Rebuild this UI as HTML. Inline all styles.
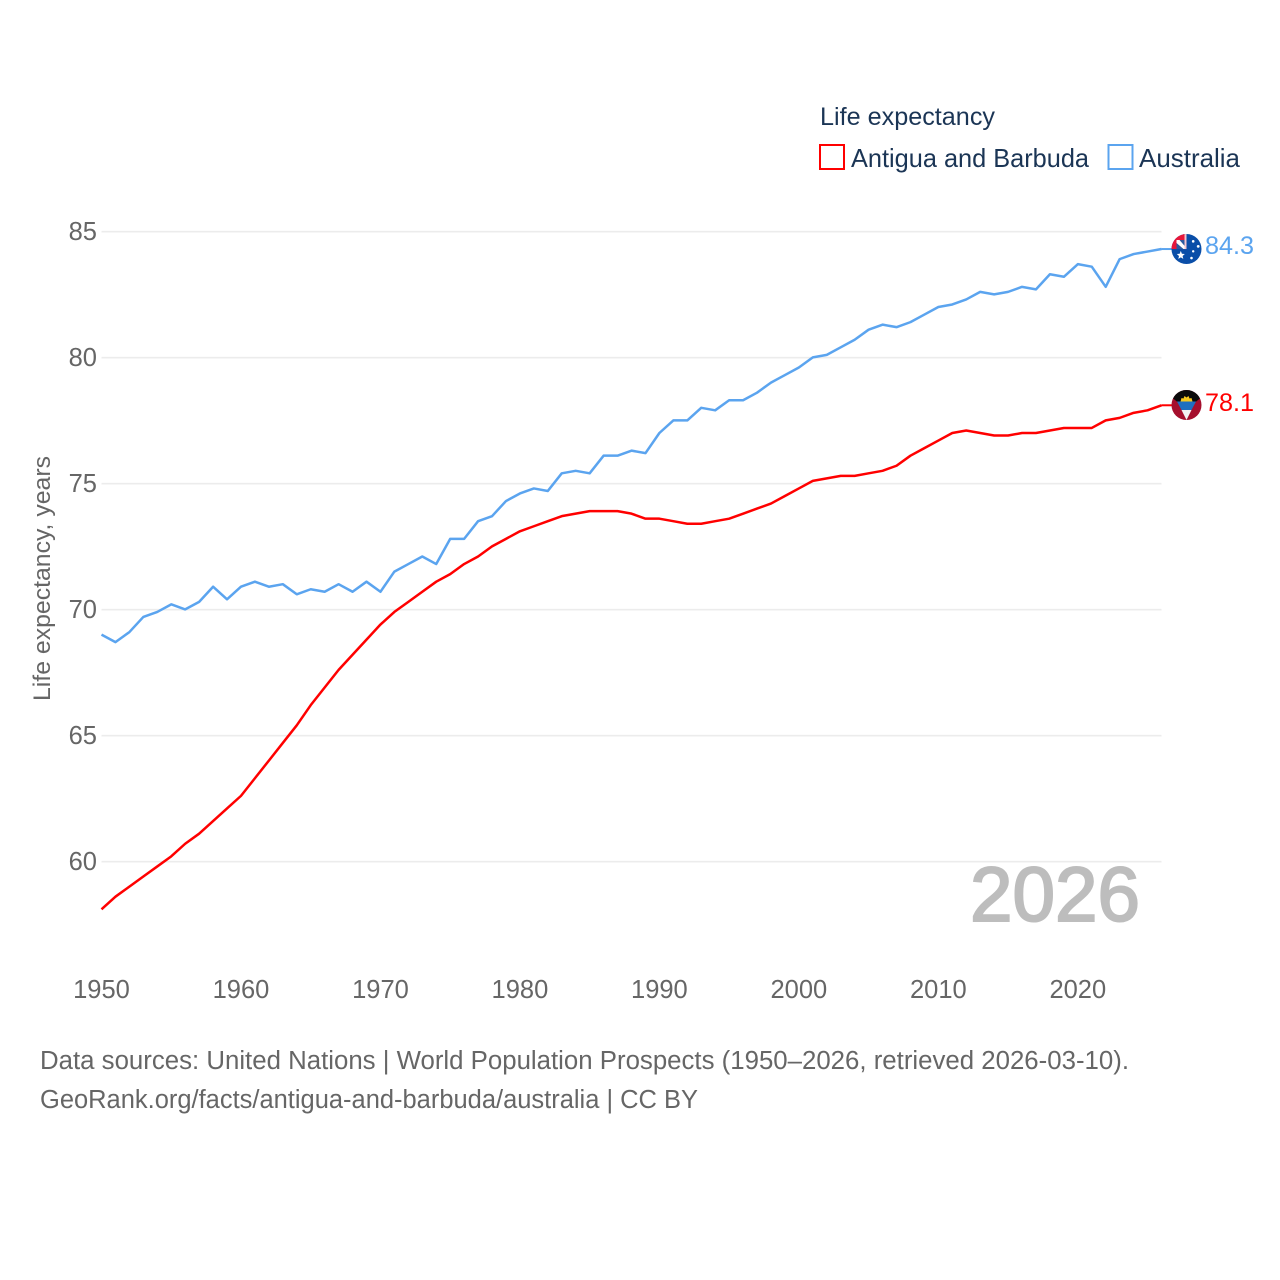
<!DOCTYPE html>
<html lang="en">
<head>
<meta charset="utf-8">
<title>Life expectancy: Antigua and Barbuda and Australia</title>
<style>
html,body{margin:0;padding:0;background:#fff;width:1280px;height:1280px;overflow:hidden}
svg{display:block}
text{font-family:"Liberation Sans",sans-serif}
</style>
</head>
<body>
<svg id="chart" xmlns="http://www.w3.org/2000/svg" width="1280" height="1280" viewBox="0 0 1280 1280">
  <defs>
    <clipPath id="flag-clip"><circle cx="0" cy="0" r="15"></circle></clipPath>
  </defs>
  <rect x="0" y="0" width="1280" height="1280" fill="#ffffff"></rect>
  <g id="grid"></g>
  <g id="y-ticks"></g>
  <g id="x-ticks"></g>

  <text transform="translate(50,701) rotate(-90)" font-size="24.500" fill="#666666" textLength="245" lengthAdjust="spacingAndGlyphs">Life expectancy, years</text>

  <text x="970" y="921" font-size="77" font-weight="400" fill="#bdbdbd" stroke="#bdbdbd" stroke-width="2" textLength="170" lengthAdjust="spacingAndGlyphs">2026</text>

  <g id="series"></g>

  <g>
    <text x="820" y="125" font-size="25" fill="#1b3555" textLength="175" lengthAdjust="spacingAndGlyphs">Life expectancy</text>
    <rect x="820" y="145" width="24" height="24" fill="#ffffff" stroke="#ff0000" stroke-width="2"></rect>
    <text x="851" y="167" font-size="26" fill="#1b3555" textLength="238" lengthAdjust="spacingAndGlyphs">Antigua and Barbuda</text>
    <rect x="1108.500" y="145" width="24" height="24" fill="#ffffff" stroke="#5ba4ef" stroke-width="2"></rect>
    <text x="1139" y="167" font-size="26" fill="#1b3555" textLength="101" lengthAdjust="spacingAndGlyphs">Australia</text>
  </g>

  <g id="flag-australia">
    <g clip-path="url(#flag-clip)">
      <rect x="-16" y="-16" width="32" height="32" fill="#0a4ea8"></rect>
      <rect x="-16" y="-16" width="16" height="16" fill="#e8173a"></rect>
      <rect x="-10" y="-9" width="8" height="9" fill="#2c5aa0"></rect>
      <polygon points="-10,-9 -7,-9 -1,-2 -1,0 -3,0 -10,-6" fill="#ffffff"></polygon>
      <rect x="-2" y="-16" width="2" height="16" fill="#f3c6cf"></rect>
      <polygon points="-5.700,1.800 -4.600,4.700 -1.700,5 -3.900,7 -3.200,9.800 -5.700,8.300 -8.200,9.800 -7.500,7 -9.700,5 -6.800,4.700" fill="#ffffff"></polygon>
      <circle cx="6.700" cy="-7.700" r="1.300" fill="#ffffff"></circle>
      <circle cx="11.700" cy="-2.700" r="1.400" fill="#ffffff"></circle>
      <circle cx="6.700" cy="2.300" r="1.200" fill="#ffffff"></circle>
      <circle cx="5" cy="9" r="1.300" fill="#ffffff"></circle>
    </g>
  </g>

  <g id="flag-antigua">
    <g clip-path="url(#flag-clip)">
      <rect x="-16" y="-16" width="32" height="32" fill="#a50f2d"></rect>
      <polygon points="-16,-16 16,-16 16,-7 14,-7 9.500,-3.300 -9.500,-3.300 -14,-7 -16,-7" fill="#0b0b0b"></polygon>
      <polygon points="-9.500,-3.500 9.500,-3.500 5,5 -5,5" fill="#1f6fc0"></polygon>
      <polygon points="-5,5 5,5 0,15" fill="#f2f2f2"></polygon>
      <polygon points="-6,-3.500 -5,-7 -3,-6.500 -2,-9 0,-7.500 2,-9 3,-6.500 5,-7 6,-3.500" fill="#f7c81e"></polygon>
    </g>
  </g>

  <text id="value-australia" x="1205" y="254" font-size="25" fill="#5ba4ef" textLength="49" lengthAdjust="spacingAndGlyphs"></text>
  <text id="value-antigua" x="1205" y="411" font-size="25" fill="#ff0000" textLength="49" lengthAdjust="spacingAndGlyphs"></text>

  <g>
    <text x="40" y="1069" font-size="25.500" fill="#666666" textLength="1089" lengthAdjust="spacingAndGlyphs">Data sources: United Nations | World Population Prospects (1950–2026, retrieved 2026-03-10).</text>
    <text x="40" y="1108" font-size="25.500" fill="#666666" textLength="658" lengthAdjust="spacingAndGlyphs">GeoRank.org/facts/antigua-and-barbuda/australia | CC BY</text>
  </g>
</svg>

<script>
const firstYear = 1950;
const lastYear = 2026;
const yTickValues = [60, 65, 70, 75, 80, 85];
const xTickValues = [1950, 1960, 1970, 1980, 1990, 2000, 2010, 2020];

const antiguaValues = [
  58.1, 58.6, 59.0, 59.4, 59.8, 60.2, 60.7, 61.1, 61.6, 62.1,
  62.6, 63.3, 64.0, 64.7, 65.4, 66.2, 66.9, 67.6, 68.2, 68.8,
  69.4, 69.9, 70.3, 70.7, 71.1, 71.4, 71.8, 72.1, 72.5, 72.8,
  73.1, 73.3, 73.5, 73.7, 73.8, 73.9, 73.9, 73.9, 73.8, 73.6,
  73.6, 73.5, 73.4, 73.4, 73.5, 73.6, 73.8, 74.0, 74.2, 74.5,
  74.8, 75.1, 75.2, 75.3, 75.3, 75.4, 75.5, 75.7, 76.1, 76.4,
  76.7, 77.0, 77.1, 77.0, 76.9, 76.9, 77.0, 77.0, 77.1, 77.2,
  77.2, 77.2, 77.5, 77.6, 77.8, 77.9, 78.1
];

const australiaValues = [
  69.0, 68.7, 69.1, 69.7, 69.9, 70.2, 70.0, 70.3, 70.9, 70.4,
  70.9, 71.1, 70.9, 71.0, 70.6, 70.8, 70.7, 71.0, 70.7, 71.1,
  70.7, 71.5, 71.8, 72.1, 71.8, 72.8, 72.8, 73.5, 73.7, 74.3,
  74.6, 74.8, 74.7, 75.4, 75.5, 75.4, 76.1, 76.1, 76.3, 76.2,
  77.0, 77.5, 77.5, 78.0, 77.9, 78.3, 78.3, 78.6, 79.0, 79.3,
  79.6, 80.0, 80.1, 80.4, 80.7, 81.1, 81.3, 81.2, 81.4, 81.7,
  82.0, 82.1, 82.3, 82.6, 82.5, 82.6, 82.8, 82.7, 83.3, 83.2,
  83.7, 83.6, 82.8, 83.9, 84.1, 84.2, 84.3
];

const SVG_NS = 'http://www.w3.org/2000/svg';
const plotLeft = 101.5;
const plotRight = 1161.5;
const y85 = 231.4;
const pixelsPerUnit = 25.2;

function xScale(year) {
  return plotLeft + (year - firstYear) * (plotRight - plotLeft) / (lastYear - firstYear);
}
function yScale(value) {
  return y85 + (85 - value) * pixelsPerUnit;
}
function make(tag, parent) {
  const el = document.createElementNS(SVG_NS, tag);
  parent.appendChild(el);
  return el;
}

const grid = document.getElementById('grid');
const yTicks = document.getElementById('y-ticks');
const xTicks = document.getElementById('x-ticks');
const seriesLayer = document.getElementById('series');

yTickValues.forEach(function (v) {
  const line = make('line', grid);
  
  
  line.setAttribute('x1', plotLeft);
  line.setAttribute('x2', plotRight);
  line.setAttribute('y1', yScale(v) + 0.3);
  line.setAttribute('y2', yScale(v) + 0.3);
  line.setAttribute('stroke', '#ececec');
  line.setAttribute('stroke-width', '1.6');

  const label = make('text', yTicks);
  
  
  label.setAttribute('x', 97);
  label.setAttribute('y', yScale(v) + 8.4);
  label.setAttribute('text-anchor', 'end');
  label.setAttribute('font-size', '25.5');
  label.setAttribute('fill', '#666666');
  label.textContent = String(v);
});

xTickValues.forEach(function (year) {
  const label = make('text', xTicks);
  
  
  label.setAttribute('x', xScale(year));
  label.setAttribute('y', 998);
  label.setAttribute('text-anchor', 'middle');
  label.setAttribute('font-size', '25.5');
  label.setAttribute('fill', '#666666');
  label.textContent = String(year);
});

function linePoints(values) {
  return values.map(function (v, i) {
    return xScale(firstYear + i).toFixed(2) + ',' + yScale(v).toFixed(2);
  }).join(' ');
}

const antiguaLine = make('polyline', seriesLayer);


antiguaLine.setAttribute('points', linePoints(antiguaValues));
antiguaLine.setAttribute('fill', 'none');
antiguaLine.setAttribute('stroke', '#ff0000');
antiguaLine.setAttribute('stroke-width', '2.5');
antiguaLine.setAttribute('stroke-linejoin', 'round');

const australiaLine = make('polyline', seriesLayer);


australiaLine.setAttribute('points', linePoints(australiaValues));
australiaLine.setAttribute('fill', 'none');
australiaLine.setAttribute('stroke', '#5ba4ef');
australiaLine.setAttribute('stroke-width', '2.5');
australiaLine.setAttribute('stroke-linejoin', 'round');

const antiguaLast = antiguaValues[antiguaValues.length - 1];
const australiaLast = australiaValues[australiaValues.length - 1];

const antiguaConnector = make('line', seriesLayer);


antiguaConnector.setAttribute('x1', plotRight);
antiguaConnector.setAttribute('x2', 1172);
antiguaConnector.setAttribute('y1', yScale(antiguaLast));
antiguaConnector.setAttribute('y2', yScale(antiguaLast));
antiguaConnector.setAttribute('stroke', '#ff0000');
antiguaConnector.setAttribute('stroke-width', '2');

const australiaConnector = make('line', seriesLayer);


australiaConnector.setAttribute('x1', plotRight);
australiaConnector.setAttribute('x2', 1172);
australiaConnector.setAttribute('y1', yScale(australiaLast));
australiaConnector.setAttribute('y2', yScale(australiaLast));
australiaConnector.setAttribute('stroke', '#5ba4ef');
australiaConnector.setAttribute('stroke-width', '2');

const flagX = 1186.5;
document.getElementById('flag-australia').setAttribute('transform', 'translate(' + flagX + ',' + yScale(australiaLast) + ')');
document.getElementById('flag-antigua').setAttribute('transform', 'translate(' + flagX + ',' + (yScale(antiguaLast) - 0.3) + ')');

const australiaValueText = document.getElementById('value-australia');
australiaValueText.textContent = australiaLast.toFixed(1);
australiaValueText.setAttribute('y', yScale(australiaLast) + 5);

const antiguaValueText = document.getElementById('value-antigua');
antiguaValueText.textContent = antiguaLast.toFixed(1);
antiguaValueText.setAttribute('y', yScale(antiguaLast) + 5.7);
</script>
</body>
</html>
